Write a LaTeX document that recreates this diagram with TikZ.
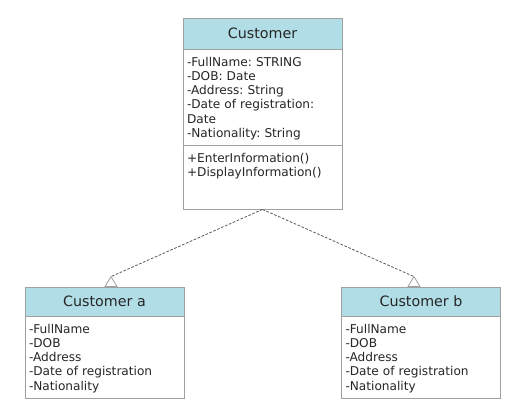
\documentclass[tikz,border=0pt]{standalone}
\usepackage{fontspec}
\setmainfont{DejaVu Sans}
\usetikzlibrary{positioning}
\definecolor{headblue}{RGB}{177,221,230}
\definecolor{linegray}{RGB}{160,160,160}
\frenchspacing

\begin{document}
\begin{tikzpicture}[x=0.75pt,y=-0.75pt,line width=0.6pt,
		classbox/.style={draw=linegray,fill=white,minimum width=119.25pt,inner sep=0pt},
		head/.style={draw=linegray,fill=headblue,minimum width=119.25pt,inner sep=0pt,
			font=\fontsize{10.7}{12}\selectfont,text=black!85},
		members/.style={anchor=north west,align=left,text width=112pt,inner xsep=3pt,
			inner ysep=5.25pt,font=\fontsize{9.1}{10.7}\selectfont\frenchspacing,text=black!85},
		gen/.style={draw=linegray,fill=white,line join=miter},
		dep/.style={draw=black!65,dash pattern=on 2pt off 1.2pt}]

	\useasboundingbox (0,0) rectangle (522,406);

	% parent class
	\node [classbox, minimum height=143.25pt] (cust) at (262.5,113.5) {};
	\node [head, minimum height=23.25pt, anchor=north] (custhead) at (cust.north) {Customer};
	\node [members] (custattr) at (custhead.south west)
		{-FullName: STRING\\-DOB: Date\\-Address: String\\-Date of registration:\\Date\\-Nationality: String};
	\coordinate (custdiv) at ([shift={(0,96)}]custhead.south west);
	\draw [linegray] (custdiv) -- (custdiv -| cust.east);
	\node [members] (custops) at (custdiv) {+EnterInformation()\\+DisplayInformation()};

	% sub classes
	\node [classbox, minimum height=83.25pt] (custa) at (104.5,342.5) {};
	\node [head, minimum height=21.75pt, anchor=north] (custahead) at (custa.north) {Customer a};
	\node [members] (custaattr) at (custahead.south west)
		{-FullName\\-DOB\\-Address\\-Date of registration\\-Nationality};

	\node [classbox, minimum height=83.25pt] (custb) at (421,342.5) {};
	\node [head, minimum height=21.75pt, anchor=north] (custbhead) at (custb.north) {Customer b};
	\node [members] (custbattr) at (custbhead.south west)
		{-FullName\\-DOB\\-Address\\-Date of registration\\-Nationality};

	% generalisation
	\coordinate (tipa) at ([shift={(6.5,-10)}]custahead.north);
	\coordinate (tipb) at ([shift={(-7,-10)}]custbhead.north);
	\draw [dep] (cust.south) -- (tipa);
	\draw [dep] (cust.south) -- (tipb);
	\draw [gen] (tipa) -- ++(-6,10) -- ++(12,0) -- cycle;
	\draw [gen] (tipb) -- ++(-6,10) -- ++(12,0) -- cycle;

\end{tikzpicture}
\end{document}
